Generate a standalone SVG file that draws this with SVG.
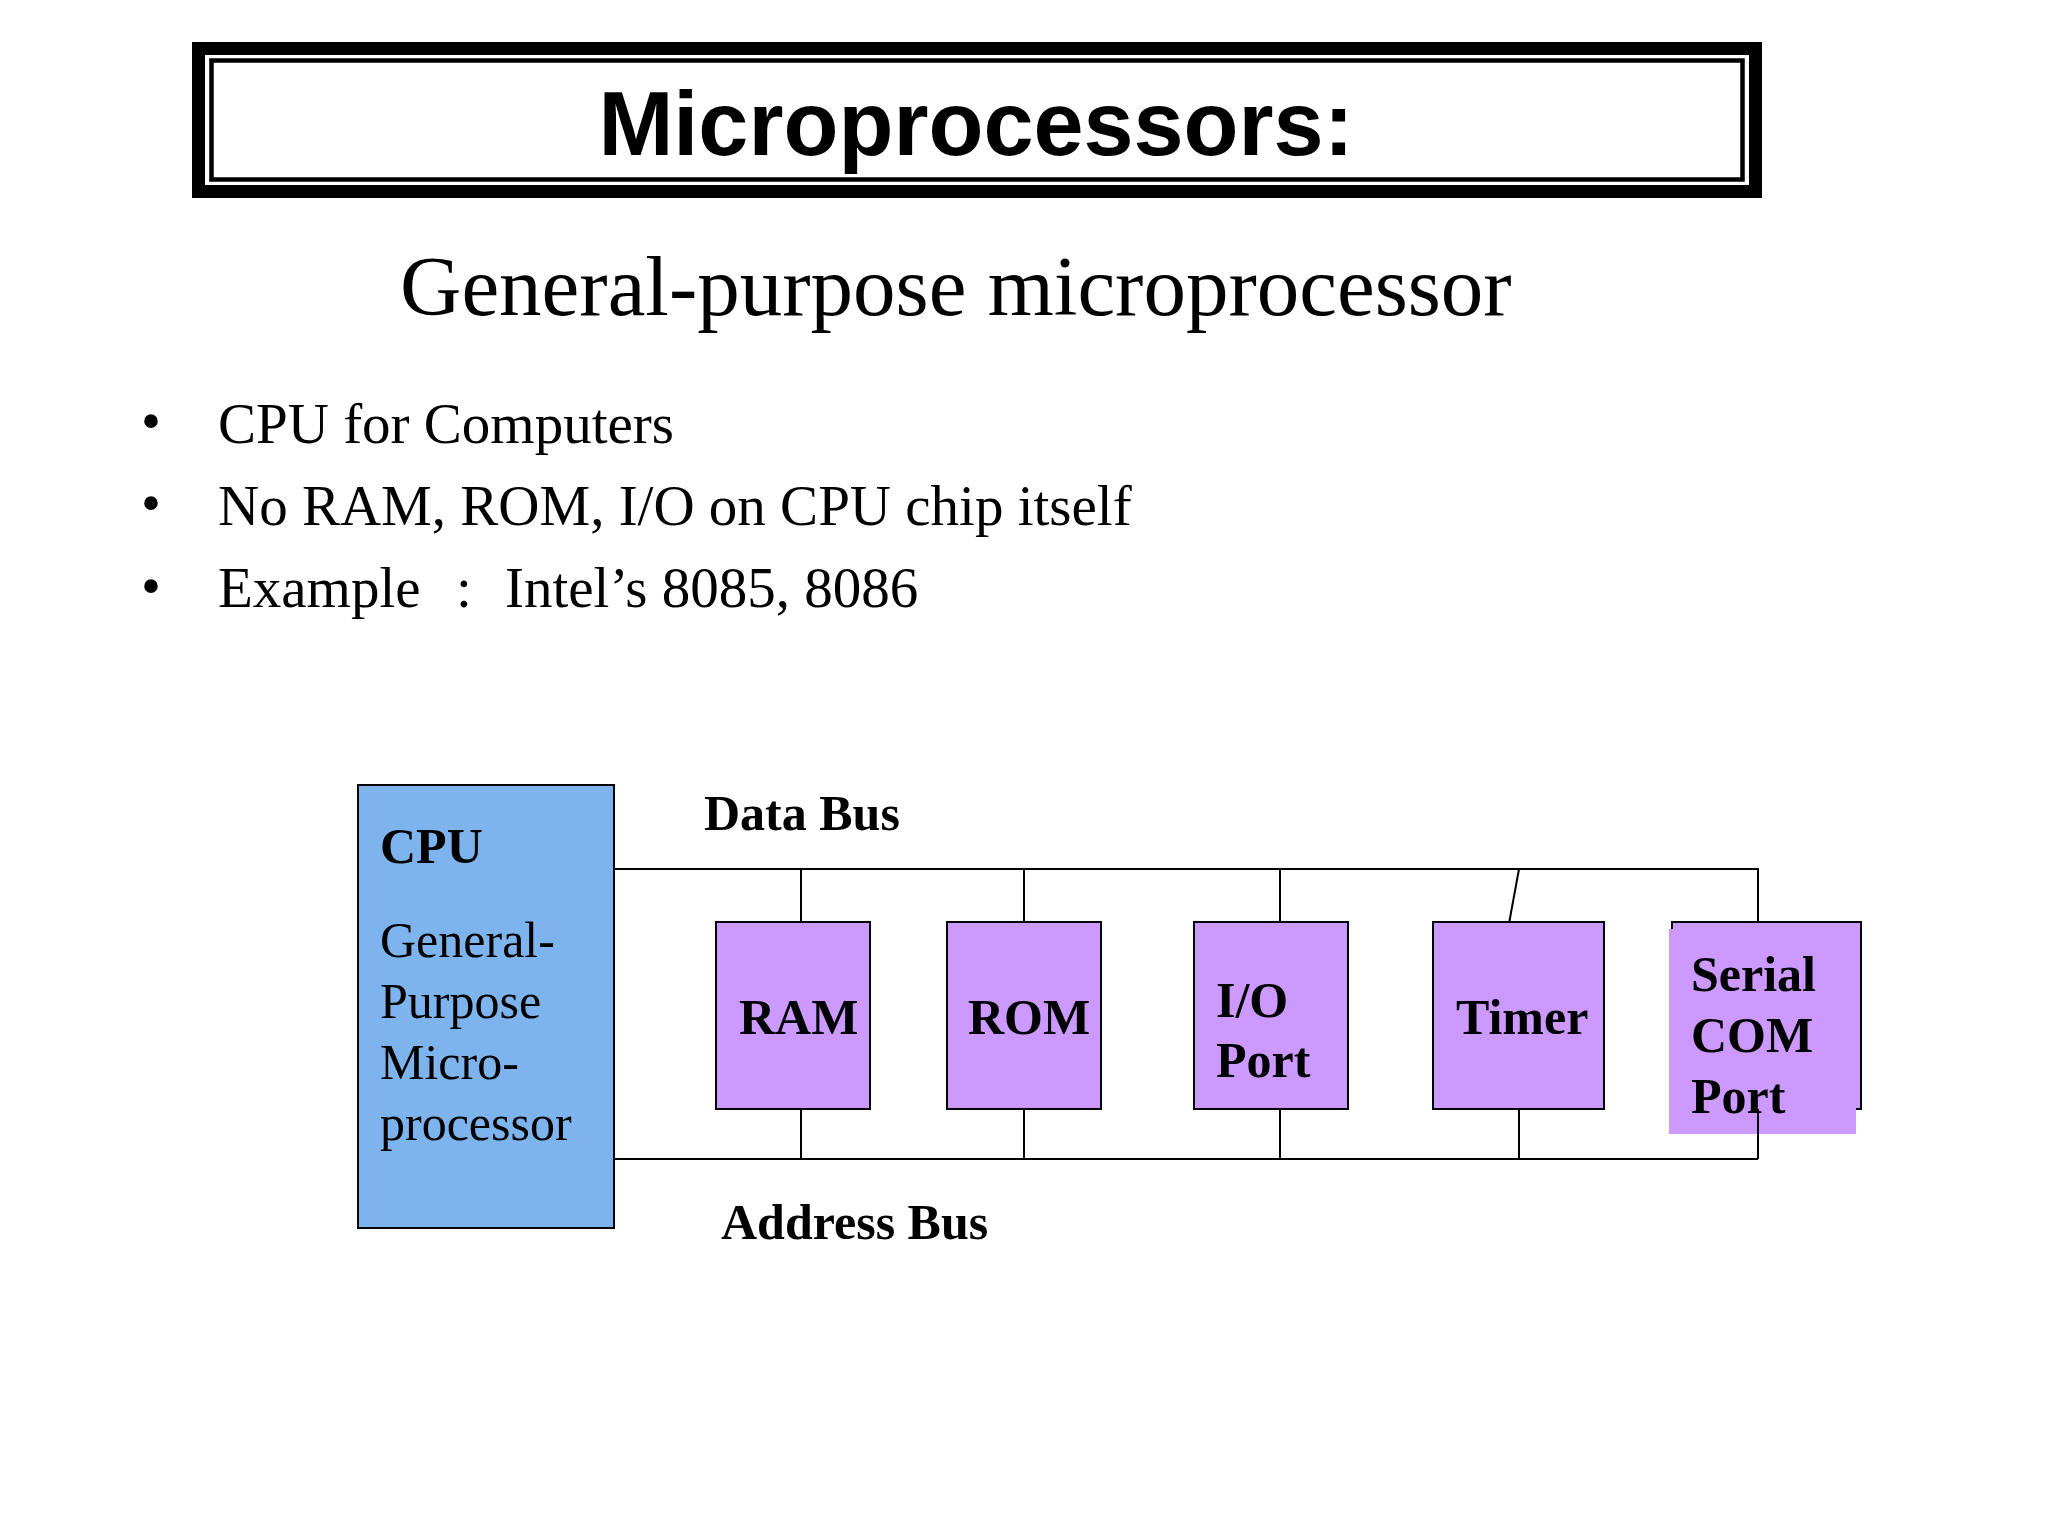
<svg xmlns="http://www.w3.org/2000/svg" width="2048" height="1536" viewBox="0 0 2048 1536">
<style>
.serif{font-family:"Liberation Serif","Times New Roman",serif;fill:#000}
.b{font-weight:bold}
.box{fill:#CC99FF;stroke:#000;stroke-width:2}
.line{stroke:#000;stroke-width:2;fill:none}
.lbl{font-size:50px}
</style>
<rect width="2048" height="1536" fill="#fff"/>
<g id="title">
<rect x="198.5" y="48.5" width="1557" height="143" fill="#fff" stroke="#000" stroke-width="13"/>
<rect x="211.5" y="60.5" width="1531" height="119" fill="none" stroke="#000" stroke-width="4.5"/>
<text x="976" y="155" text-anchor="middle" font-family="'Liberation Sans',Arial,sans-serif" font-weight="bold" font-size="90">Microprocessors:</text>
</g>
<text class="serif" x="400" y="315" font-size="85">General-purpose microprocessor</text>
<g id="bullets" class="serif" font-size="57">
<text x="151" y="440" text-anchor="middle">•</text>
<text x="151" y="522" text-anchor="middle">•</text>
<text x="151" y="605" text-anchor="middle">•</text>
<text x="218" y="443">CPU for Computers</text>
<text x="218" y="525">No RAM, ROM, I/O on CPU chip itself</text>
<text y="607"><tspan x="218">Example</tspan><tspan x="456">:</tspan><tspan x="505">Intel’s 8085, 8086</tspan></text>
</g>
<g id="connectors" class="line">
<polyline points="614,869 1758,869 1758,921"/>
<line x1="801" y1="869" x2="801" y2="922"/>
<line x1="1024" y1="869" x2="1024" y2="922"/>
<line x1="1280" y1="869" x2="1280" y2="922"/>
<line x1="1519" y1="869" x2="1508" y2="929"/>
<polyline points="614,1159 1758,1159"/>
<line x1="801" y1="1109" x2="801" y2="1159"/>
<line x1="1024" y1="1109" x2="1024" y2="1159"/>
<line x1="1280" y1="1109" x2="1280" y2="1159"/>
<line x1="1519" y1="1109" x2="1519" y2="1159"/>
</g>
<g id="cpu">
<rect x="358" y="785" width="256" height="443" fill="#7EB4EE" stroke="#000" stroke-width="2"/>
<text class="serif b lbl" x="380" y="863">CPU</text>
<text class="serif lbl" x="380" y="957">General-</text>
<text class="serif lbl" x="380" y="1018">Purpose</text>
<text class="serif lbl" x="380" y="1079">Micro-</text>
<text class="serif lbl" x="380" y="1140">processor</text>
</g>
<text id="data-bus-label" class="serif b lbl" x="704" y="830">Data Bus</text>
<text id="address-bus-label" class="serif b lbl" x="721" y="1239">Address Bus</text>
<g id="ram">
<rect class="box" x="716" y="922" width="154" height="187"/>
<text class="serif b lbl" x="739" y="1034">RAM</text>
</g>
<g id="rom">
<rect class="box" x="947" y="922" width="154" height="187"/>
<text class="serif b lbl" x="968" y="1034">ROM</text>
</g>
<g id="io">
<rect class="box" x="1194" y="922" width="154" height="187"/>
<text class="serif b lbl" x="1216" y="1017">I/O</text>
<text class="serif b lbl" x="1216" y="1077">Port</text>
</g>
<g id="timer">
<rect class="box" x="1433" y="922" width="171" height="187"/>
<text class="serif b lbl" x="1456" y="1034">Timer</text>
</g>
<g id="serial">
<rect class="box" x="1672" y="922" width="189" height="187"/>
<rect x="1669" y="929" width="187" height="205" fill="#CC99FF"/>
<line class="line" x1="1758" y1="1109" x2="1758" y2="1159"/>
<text class="serif b lbl" x="1691" y="991">Serial</text>
<text class="serif b lbl" x="1691" y="1052">COM</text>
<text class="serif b lbl" x="1691" y="1113">Port</text>
</g>
</svg>
